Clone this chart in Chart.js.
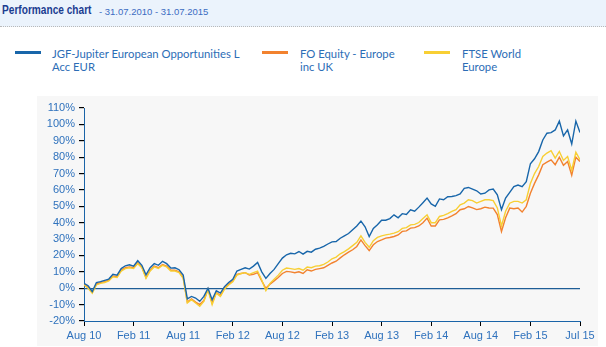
<!DOCTYPE html>
<html>
<head>
<meta charset="utf-8">
<script src="https://cdn.jsdelivr.net/npm/chart.js@4.4.0/dist/chart.umd.min.js"></script>
<style>
  body { margin: 0; background: #fff; width: 606px; height: 347px; position: relative; overflow: hidden; font-family: "Liberation Sans", Arial, sans-serif; }
  .head { position: absolute; left: 0; top: 0; width: 606px; height: 26px; background: #ebf3fc; border-bottom: 1px dotted #b9b9b9; }
  .title { position: absolute; left: 2px; top: 2px; font-family: "Liberation Sans", Arial, sans-serif; font-weight: bold; font-size: 13.5px; color: #1b3d91; white-space: nowrap; transform: scaleX(0.75); transform-origin: left top; }
  .sub { position: absolute; left: 99px; top: 6px; font-size: 9.5px; color: #3c6cc2; white-space: nowrap; }
  .leg { position: absolute; top: 47px; font-family: Lato, "Liberation Sans", sans-serif; font-size: 11.3px; line-height: 13px; color: #2c6db6; }
  .sw { position: absolute; top: 51px; width: 26px; height: 3px; }
  #chart { position: absolute; left: 37px; top: 96px; background: #f7f7f7; }
</style>
</head>
<body>
<div class="head">
  <span class="title">Performance chart</span>
  <span class="sub">- 31.07.2010 - 31.07.2015</span>
</div>
<div class="sw" style="left:15px;background:#1866aa"></div>
<div class="leg" style="left:52px">JGF-Jupiter European Opportunities L<br>Acc EUR</div>
<div class="sw" style="left:262px;background:#f2822f"></div>
<div class="leg" style="left:300px">FO Equity - Europe<br>inc UK</div>
<div class="sw" style="left:424px;background:#f8cf34"></div>
<div class="leg" style="left:462px">FTSE World<br>Europe</div>

<canvas id="chart" width="561" height="250"></canvas>

<script>
// one value every half month, from Aug 10 (month 0) to Jul 15 (month 60)
var step = 0.5

var tickLabels = ['Aug 10', 'Feb 11', 'Aug 11', 'Feb 12', 'Aug 12', 'Feb 13', 'Aug 13', 'Feb 14', 'Aug 14', 'Feb 15', 'Jul 15']

var jupiter = [
    3, 1.5, -2, 3.5, 4, 4.8, 5.6, 8.5, 8, 12, 13.7, 14.3,
    13.5, 16.8, 14, 8.2, 12.5, 15, 14, 16.4, 15, 12.3, 12.5, 11.3,
    8, -6.5, -5, -6, -8, -5, 0, -7, -1.5, -3, 1, 3.5,
    5.5, 10.5, 11.5, 12.5, 11.7, 13.5, 15.7, 10, 6, 9, 11.5, 15,
    18.4, 20.4, 21.3, 21, 22.4, 20.8, 22.5, 22, 23.8, 24.5, 25.5, 27,
    28.3, 28.5, 30.5, 32, 33.4, 35.7, 38, 41, 37.5, 31.5, 36.5, 38.7,
    41.5, 41.5, 42.5, 44.8, 43, 45.5, 45, 47.9, 47, 49.5, 52.2, 55,
    51.5, 50, 54.5, 54, 55.8, 56, 56.5, 57.5, 61, 61.5, 60.5, 59.5,
    57.5, 58, 60, 60.5, 57, 48, 55, 58.5, 62, 63, 62, 65,
    76, 79, 83.4, 90.5, 94.6, 95, 96.6, 102, 93, 96.6, 88, 102,
    95
]

var foEquity = [
    2.5, 0.5, -2.5, 2.5, 3.5, 4, 5, 7.5, 7, 11, 12.5, 13,
    12.5, 15.5, 13, 6.5, 11, 13.5, 12.5, 14.5, 13.5, 11, 11, 10,
    6.5, -8.5, -6.5, -8.5, -10, -7.5, -0.5, -9, -2.5, -4.5, 0, 2.5,
    4.5, 8.5, 9, 9.5, 8, 8.5, 9.5, 4.5, 0, 2.5, 4.5, 6.5,
    9, 10.3, 10, 9.5, 10, 9, 11.3, 10.5, 11.5, 12, 12.5, 14,
    15.4, 16.5, 18.5, 20.4, 22, 23.5, 25.5, 29.5, 26, 23, 26.5, 28.5,
    29.5, 30.6, 31, 31.6, 32.5, 34.7, 35, 36.7, 37, 38, 40, 42.8,
    38, 38, 41.7, 42, 43, 44.2, 45.5, 47.9, 48.5, 49.9, 49, 48,
    48.5, 49.5, 49, 48.9, 45, 34.6, 43, 48.9, 48.5, 48.9, 46.5, 50,
    58, 64, 69.2, 75.4, 77, 78.4, 75.4, 80, 75, 77.3, 69, 80,
    77.3
]

var ftseEurope = [
    2, 0, -3, 2, 3, 3.5, 4.5, 7, 6.5, 10.5, 12, 12.5,
    12, 15, 12.5, 6, 10.5, 13, 12, 14, 13, 10.5, 10.5, 9.5,
    6, -9, -7, -9, -11, -8, -1, -10, -3, -5, -0.5, 2,
    4, 8, 9, 9.5, 8.5, 9.5, 10.5, 5, -1.5, 3, 5.5, 8,
    11, 12.3, 12, 11.5, 12, 11, 12.9, 12.5, 13.5, 13.7, 14.5, 16,
    18, 19, 21, 22.4, 24, 26, 28, 32, 28, 25, 29, 31,
    32, 32.6, 33, 33.6, 34.5, 36.5, 37, 38.7, 39, 40.1, 42.5, 44.8,
    40, 40, 43.8, 44.5, 45.5, 46.9, 48, 50.9, 52, 54, 53.5, 52,
    53, 54, 54, 53.5, 49, 38, 47, 51.9, 53, 53, 52, 54,
    64, 70, 74.3, 80.4, 82.5, 84, 79.4, 83.5, 78, 80.4, 72, 83,
    78.4
]

function points(values) {
    return values.map((v, i) => ({ x: i * step, y: v }))
}

var axisBlue = '#1a64a8'
var labelBlue = '#2f72bd'

var data = {
    datasets: [
        {
            label: 'JGF-Jupiter European Opportunities L Acc EUR',
            data: points(jupiter),
            borderColor: '#1866aa',
            borderWidth: 1.4,
            pointRadius: 0,
            order: 0
        },
        {
            label: 'FO Equity - Europe inc UK',
            data: points(foEquity),
            borderColor: '#f2822f',
            borderWidth: 1.4,
            pointRadius: 0,
            order: 2
        },
        {
            label: 'FTSE World Europe',
            data: points(ftseEurope),
            borderColor: '#f8cf34',
            borderWidth: 1.4,
            pointRadius: 0,
            order: 1
        }
    ]
}

var ctx = document.getElementById('chart').getContext('2d')
var chart = new Chart(ctx, {
    type: 'line',
    data: data,
    options: {
        responsive: false,
        animation: false,
        layout: { padding: { top: 12, right: 18, left: 0, bottom: 0 } },
        plugins: {
            legend: { display: false },
            tooltip: { enabled: false }
        },
        scales: {
            x: {
                type: 'linear',
                min: 0,
                max: 60,
                afterFit: s => { s.height = 25 },
                border: { color: axisBlue, width: 1 },
                grid: { drawOnChartArea: false, tickColor: '#000', tickLength: 5 },
                ticks: {
                    stepSize: 6,
                    autoSkip: false,
                    maxRotation: 0,
                    padding: 3,
                    color: labelBlue,
                    font: { family: 'Liberation Sans', size: 11 },
                    callback: v => tickLabels[Math.round(v / 6)]
                }
            },
            y: {
                min: -20,
                max: 110,
                afterFit: s => { s.width = 47 },
                border: { color: axisBlue, width: 1 },
                grid: {
                    color: c => c.tick && c.tick.value === 0 ? '#1e5d96' : 'transparent',
                    lineWidth: 1.2,
                    tickColor: '#000',
                    tickLength: 5
                },
                ticks: {
                    stepSize: 10,
                    padding: 4,
                    color: labelBlue,
                    font: { family: 'Liberation Sans', size: 11 },
                    callback: v => v + '%'
                }
            }
        }
    }
})
</script>
</body>
</html>
